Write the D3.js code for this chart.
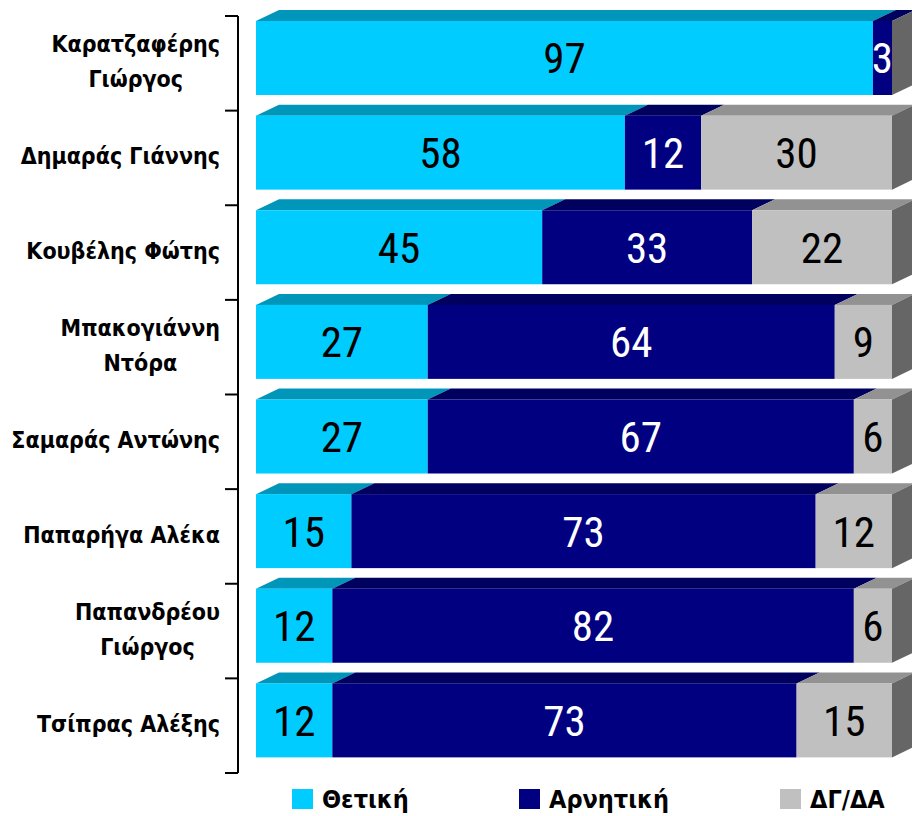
<!DOCTYPE html>
<html>
<head>
<meta charset="utf-8">
<script src="https://cdn.jsdelivr.net/npm/d3@7"></script>
<style>
  html, body { margin: 0; padding: 0; background: #fff; }
  svg { display: block; }
</style>
</head>
<body>
<svg id="chart" width="912" height="816"></svg>
<script>
// Politicians, top to bottom
const categories = [
  "Καρατζαφέρης\nΓιώργος",
  "Δημαράς Γιάννης",
  "Κουβέλης Φώτης",
  "Μπακογιάννη\nΝτόρα",
  "Σαμαράς Αντώνης",
  "Παπαρήγα Αλέκα",
  "Παπανδρέου\nΓιώργος",
  "Τσίπρας Αλέξης"
];
// Opinion shares (%)
const positive = [97, 58, 45, 27, 27, 15, 12, 12];
const negative = [3, 12, 33, 64, 67, 73, 82, 73];
const noAnswer = [0, 30, 22, 9, 6, 12, 6, 15];
const seriesNames = ["Θετική", "Αρνητική", "ΔΓ/ΔΑ"];

const series = [
  { name: seriesNames[0], values: positive, front: "#00CCFF", top: "#0096BA", text: "#000" },
  { name: seriesNames[1], values: negative, front: "#000080", top: "#00005E", text: "#fff" },
  { name: seriesNames[2], values: noAnswer, front: "#C0C0C0", top: "#929292", side: "#666666", text: "#000" }
];

const svg = d3.select("#chart");

const x = d3.scaleLinear().domain([0, 100]).range([256, 892]);
const y = d3.scaleBand().domain(categories).range([16, 773]).padding(0);

const depthX = 23, depthY = 11;   // 3D extrusion offset
const barOffset = 5, barH = 74;

// stacked layout
const rows = categories.map((c, i) => {
  let acc = 0;
  const segs = series.map(s => {
    const v = s.values[i];
    const seg = { s, v, x0: acc, x1: acc + v };
    acc += v;
    return seg;
  });
  return { c, segs, y0: y(c) + barOffset };
});

const bars = svg.append("g");
rows.forEach(r => {
  const g = bars.append("g");
  const yt = r.y0, yb = r.y0 + barH;
  r.segs.forEach(seg => {
    const a = x(seg.x0), b = x(seg.x1);
    // top face
    g.append("path")
      .attr("d", `M${a},${yt}L${a + depthX},${yt - depthY}L${b + depthX},${yt - depthY}L${b},${yt}Z`)
      .attr("fill", seg.s.top);
    // front face
    g.append("rect")
      .attr("x", a).attr("y", yt)
      .attr("width", Math.max(0, b - a)).attr("height", barH)
      .attr("fill", seg.s.front);
  });
  // side face at end of stack
  const end = x(r.segs[r.segs.length - 1].x1);
  g.append("path")
    .attr("d", `M${end},${yt}L${end + depthX},${yt - depthY}L${end + depthX},${yb - depthY}L${end},${yb}Z`)
    .attr("fill", series[2].side);
  // value labels
  r.segs.forEach(seg => {
    if (seg.v <= 0) return;
    g.append("text")
      .attr("x", (x(seg.x0) + x(seg.x1)) / 2)
      .attr("y", yt + barH / 2)
      .attr("dy", "0.36em")
      .attr("text-anchor", "middle")
      .attr("font-family", "'Liberation Sans Narrow', 'Roboto Condensed', 'DejaVu Sans Condensed', sans-serif")
      .attr("font-size", 43)
      .attr("fill", seg.s.text)
      .text(seg.v);
  });
});

// category axis
const axis = svg.append("g").attr("stroke", "#000").attr("stroke-width", 2);
const [r0, r1] = y.range();
axis.append("line").attr("x1", 238).attr("x2", 238).attr("y1", r0).attr("y2", r1);
const bounds = categories.map(c => y(c)).concat([r1]);
bounds.forEach(b => {
  axis.append("line").attr("x1", 225).attr("x2", 238).attr("y1", b).attr("y2", b);
});

// category labels: lines centred on each other, block right-aligned
const labelFont = "'DejaVu Sans Condensed', 'DejaVu Sans', sans-serif";
const labels = svg.append("g")
  .attr("font-family", labelFont)
  .attr("font-weight", "bold")
  .attr("font-size", 23)
  .attr("fill", "#000");
categories.forEach(c => {
  const lines = c.split("\n");
  const cy = y(c) + y.bandwidth() / 2 - 2;
  const lh = 35;
  const t = labels.append("text").attr("text-anchor", "middle");
  lines.forEach((ln, k) => {
    t.append("tspan")
      .attr("y", cy + (k - (lines.length - 1) / 2) * lh)
      .attr("dy", "0.36em")
      .text(ln);
  });
  let w = 0;
  t.selectAll("tspan").each(function () { w = Math.max(w, this.getComputedTextLength()); });
  t.selectAll("tspan").attr("x", 220 - w / 2);
});

// legend
const legendX = [292, 519, 780];
const legend = svg.append("g");
series.forEach((s, i) => {
  const g = legend.append("g").attr("transform", `translate(${legendX[i]},789)`);
  g.append("rect").attr("width", 21).attr("height", 20).attr("fill", s.front);
  g.append("text")
    .attr("x", 30).attr("y", 10).attr("dy", "0.36em")
    .attr("font-family", labelFont)
    .attr("font-weight", "bold")
    .attr("font-size", 25)
    .text(s.name);
});
</script>
</body>
</html>
